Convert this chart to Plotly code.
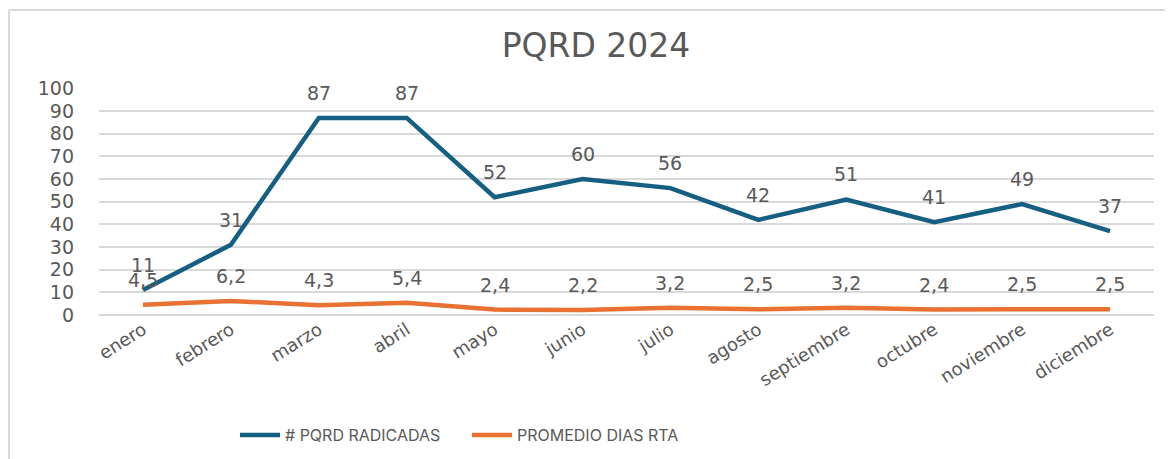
import plotly.graph_objects as go

months = ["enero", "febrero", "marzo", "abril", "mayo", "junio", "julio",
          "agosto", "septiembre", "octubre", "noviembre", "diciembre"]
pqrd_radicadas = [11, 31, 87, 87, 52, 60, 56, 42, 51, 41, 49, 37]
promedio_dias = [4.5, 6.2, 4.3, 5.4, 2.4, 2.2, 3.2, 2.5, 3.2, 2.4, 2.5, 2.5]
y_ticks = [0, 10, 20, 30, 40, 50, 60, 70, 80, 90, 100]

BLUE = "#156082"
ORANGE = "#E97132"
TEXT = "#595959"
GRID = "#D9D9D9"
FONT = "DejaVu Sans"

# page body has an 8px margin: figure coords = screen coords - 8
OFF = 8
W, H = 1173 - OFF, 459 - OFF
L, R, T, B = 99 - OFF, 19, 88 - OFF, 144
pw, ph = W - L - R, H - T - B

def px_x(sx):
    return (sx - OFF - L) / pw

def px_y(sy):
    return (H - B - (sy - OFF)) / ph

fig = go.Figure()
fig.add_trace(go.Scatter(x=months, y=pqrd_radicadas, mode="lines",
                         name="# PQRD RADICADAS",
                         line=dict(color=BLUE, width=4.5)))
fig.add_trace(go.Scatter(x=months, y=promedio_dias, mode="lines",
                         name="PROMEDIO DIAS RTA",
                         line=dict(color=ORANGE, width=4.5)))

annotations = []
for m, v in zip(months, pqrd_radicadas):
    annotations.append(dict(x=m, y=v, text=str(v), showarrow=False,
                            yshift=25, font=dict(family=FONT, size=19, color=TEXT)))
for m, v in zip(months, promedio_dias):
    annotations.append(dict(x=m, y=v, text=f"{v}".replace(".", ","), showarrow=False,
                            yshift=25, font=dict(family=FONT, size=19, color=TEXT)))

shapes = [
    dict(type="line", xref="paper", yref="paper",
         x0=px_x(9), x1=px_x(1173), y0=px_y(10), y1=px_y(10),
         line=dict(color=GRID, width=2)),
    dict(type="line", xref="paper", yref="paper",
         x0=px_x(9), x1=px_x(9), y0=px_y(10), y1=px_y(459),
         line=dict(color=GRID, width=2)),
]

fig.update_layout(
    template="none",
    width=W, height=H,
    margin=dict(l=L, r=R, t=T, b=B, autoexpand=False),
    paper_bgcolor="white", plot_bgcolor="white",
    title=dict(text="PQRD 2024", x=(596 - OFF) / W, xanchor="center",
               y=1 - (45 - OFF) / H, yanchor="middle",
               font=dict(family=FONT, size=33, color=TEXT)),
    font=dict(family=FONT, color=TEXT),
    showlegend=True,
    legend=dict(orientation="h", x=px_x(235), xanchor="left",
                y=px_y(435), yanchor="middle",
                font=dict(family="Inter", size=16, color=TEXT),
                itemwidth=40, entrywidth=177, entrywidthmode="pixels",
                bgcolor="rgba(0,0,0,0)"),
    annotations=annotations,
    shapes=shapes,
)
fig.update_xaxes(range=[-0.5, 11.5], showgrid=False, showline=False, zeroline=False,
                 automargin=False, tickangle=-32,
                 tickfont=dict(family=FONT, size=18, color=TEXT), ticks="")
fig.update_yaxes(range=[0, 100.2], tickvals=y_ticks, showgrid=True, gridcolor=GRID,
                 gridwidth=2, zeroline=True, zerolinecolor=GRID, zerolinewidth=2,
                 showline=False, automargin=False, ticklabelstandoff=24, ticks="",
                 tickfont=dict(family=FONT, size=19, color=TEXT))

fig.write_html("out.html")
